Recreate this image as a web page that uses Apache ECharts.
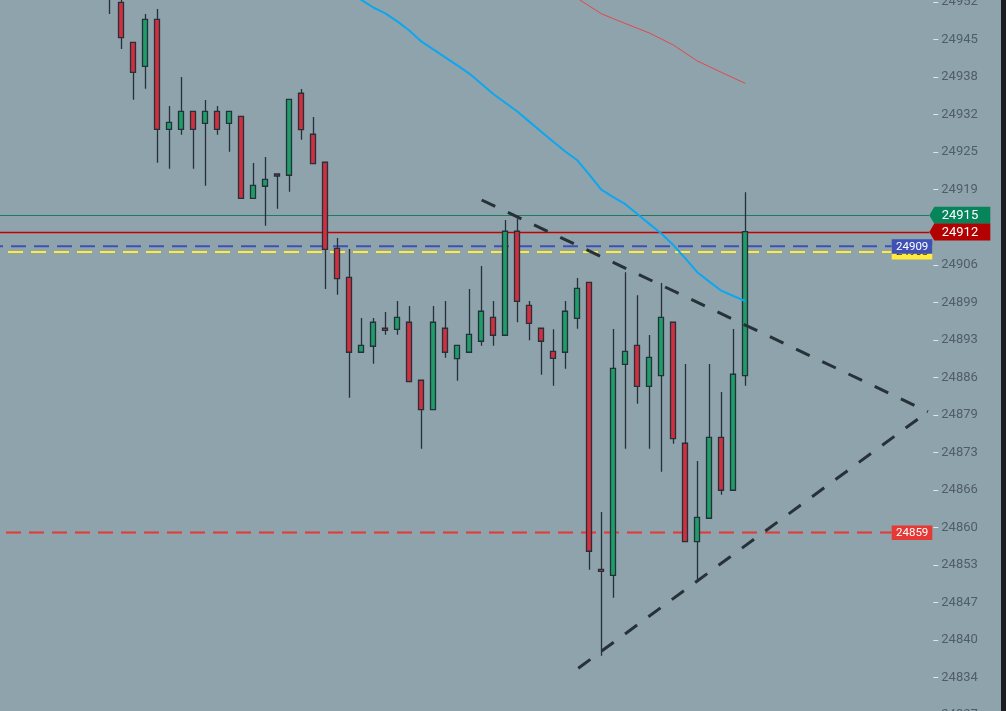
<!DOCTYPE html>
<html lang="en">
<head>
<meta charset="UTF-8">
<title>Candles</title>
<script src="https://cdn.jsdelivr.net/npm/echarts@6/dist/echarts.min.js"></script>
<style>
  html, body { margin: 0; padding: 0; background: #1c1d1f; overflow: hidden; width: 1006px; height: 711px; }
  /* the chart is a bit larger than the window: the first and last price ticks sit just off screen */
  #main { position: absolute; left: -5px; top: -36px; width: 1006px; height: 790px; }
</style>
</head>
<body>
<div id="main"></div>
<script>
  // empty bar slots left and right of the candles (chart is scrolled)
  const slotsBefore = 9
  const slotsAfter = 15

  // candles: [open, close, low, high]
  const candles = [
    [24957.50, 24954.00, 24949.95, 24960.00],
    [24952.00, 24945.82, 24943.84, 24952.57],
    [24945.01, 24939.77, 24934.99, 24945.01],
    [24940.82, 24949.03, 24936.91, 24949.95],
    [24949.03, 24929.82, 24923.99, 24950.83],
    [24929.82, 24931.04, 24922.94, 24933.89],
    [24929.82, 24932.96, 24928.88, 24938.95],
    [24932.96, 24929.82, 24922.94, 24932.96],
    [24930.87, 24932.96, 24919.97, 24934.94],
    [24932.96, 24929.82, 24928.88, 24933.89],
    [24930.87, 24932.96, 24925.91, 24932.96],
    [24932.09, 24917.77, 24917.77, 24932.09],
    [24917.77, 24920.04, 24917.77, 24923.93],
    [24919.87, 24921.09, 24912.99, 24924.98],
    [24922.01, 24921.66, 24915.95, 24922.01],
    [24921.79, 24935.06, 24918.92, 24935.06],
    [24936.11, 24929.75, 24928.00, 24936.86],
    [24928.95, 24923.81, 24923.81, 24931.97],
    [24924.06, 24908.86, 24901.93, 24924.06],
    [24909.04, 24903.73, 24900.94, 24910.84],
    [24903.97, 24890.88, 24882.95, 24908.92],
    [24890.88, 24892.10, 24890.88, 24896.87],
    [24891.93, 24896.12, 24888.89, 24896.87],
    [24895.07, 24894.72, 24893.95, 24897.91],
    [24894.89, 24896.99, 24893.95, 24899.84],
    [24896.12, 24885.74, 24885.74, 24898.96],
    [24885.99, 24880.85, 24874.04, 24885.99],
    [24880.85, 24896.12, 24880.85, 24898.96],
    [24895.07, 24890.88, 24889.93, 24899.84],
    [24889.76, 24892.10, 24885.92, 24892.10],
    [24890.88, 24894.02, 24890.88, 24901.93],
    [24892.80, 24898.04, 24892.03, 24905.95],
    [24896.99, 24893.85, 24892.03, 24899.84],
    [24893.85, 24912.01, 24893.85, 24913.98],
    [24912.01, 24899.78, 24896.12, 24914.24],
    [24899.08, 24895.94, 24892.97, 24899.84],
    [24895.07, 24892.80, 24886.97, 24895.07],
    [24891.05, 24889.83, 24885.04, 24894.89],
    [24890.88, 24898.04, 24888.01, 24899.84],
    [24896.81, 24902.05, 24894.99, 24903.85],
    [24903.10, 24856.13, 24852.91, 24903.10],
    [24852.98, 24852.63, 24837.89, 24862.99],
    [24851.93, 24888.08, 24848.02, 24894.95],
    [24888.78, 24891.05, 24874.04, 24904.85],
    [24892.10, 24884.94, 24881.90, 24900.83],
    [24884.94, 24890.00, 24874.04, 24893.90],
    [24886.79, 24896.99, 24870.03, 24902.98],
    [24896.12, 24875.79, 24874.92, 24896.12],
    [24874.99, 24857.80, 24857.80, 24888.83],
    [24857.80, 24862.06, 24850.99, 24871.90],
    [24861.89, 24876.03, 24861.89, 24888.83],
    [24876.03, 24866.78, 24866.01, 24883.94],
    [24866.78, 24887.04, 24866.78, 24894.95],
    [24886.79, 24911.94, 24885.04, 24918.82]
  ]

  // moving averages, first value belongs to candle maXxxStart
  const maFastStart = 19
  const maFast = [
    24955.19, 24953.80, 24952.43, 24951.09, 24950.06, 24948.66, 24947.06,
    24945.17, 24943.77, 24942.39, 24940.98, 24939.55, 24937.76, 24935.98,
    24934.46, 24932.93, 24931.16, 24929.38, 24927.65, 24925.94, 24924.41,
    24921.91, 24919.27, 24917.98, 24916.74, 24915.01, 24913.30, 24911.62,
    24909.61, 24907.29, 24904.86, 24903.22, 24901.63, 24900.71, 24899.84
  ]
  const maSlowStart = 38
  const maSlow = [
    24954.15, 24952.70, 24951.35, 24950.01, 24949.13, 24948.30, 24947.46,
    24946.64, 24945.59, 24944.54, 24943.14, 24941.75, 24940.77, 24939.77,
    24938.80, 24937.84
  ]

  // drawn trendlines: [candle index, price]
  const trendUpper = [[31.03, 24917.47], [68.22, 24880.5]]
  const trendLower = [[39.08, 24835.70], [68.22, 24880.5]]

  // price tags on the scale (last / bid)
  const tagPrices = [24914.8, 24911.9]
  const tagLabels = ['24915', '24912']

  // horizontal level lines
  const levelPrices = [24859.4, 24908.4, 24909.4]
  const levelLabels = ['24859', '24908', '24909']

  // price scale: one tick above and one below the visible labels are off screen
  const yTickTop = 24952.05
  const yTickStep = 6.5556
  const yTickLabels = [
    24952, 24945, 24938, 24932, 24925, 24919, 24912, 24906, 24899, 24893,
    24886, 24879, 24873, 24866, 24860, 24853, 24847, 24840, 24834, 24827
  ]
  const yMax = yTickTop + yTickStep
  const yMin = yTickTop - yTickLabels.length * yTickStep

  // styles
  const tagColors = ['#07855a', '#b30000']
  const tagLineColors = ['#217a60', '#c20000']
  const levelColors = ['#e53935', '#ffeb3b', '#3f51b5']
  const levelTextColors = ['#ffffff', '#333333', '#ffffff']
  const levelDashOffsets = [12.3, 10.3, 7.3]

  const nSlots = slotsBefore + candles.length + slotsAfter
  const categories = Array.from({ length: nSlots }, (_, i) => String(i))

  const pad = (arr, start) => {
    const out = new Array(nSlots).fill(null)
    arr.forEach((v, i) => { out[slotsBefore + start + i] = v })
    return out
  }
  const trendData = (pts) => pts.map(p => [p[0] + slotsBefore, p[1]])

  function tagItem(params, api) {
    const i = params.dataIndex
    const cs = params.coordSys
    const y = api.coord([0, api.value(1)])[1]
    const ly = Math.round(y) + 0.5
    const x0 = cs.x + cs.width
    return {
      type: 'group',
      children: [
        {
          type: 'line',
          shape: { x1: 0, y1: ly, x2: x0 - 2, y2: ly },
          style: { stroke: tagLineColors[i], lineWidth: i === 1 ? 1.4 : 1.1 }
        },
        {
          type: 'polygon',
          shape: { points: [[x0 - 2, y], [x0 + 3, y - 8.5], [x0 + 59, y - 8.5], [x0 + 59, y + 8.5], [x0 + 3, y + 8.5]] },
          style: { fill: tagColors[i] }
        },
        {
          type: 'text',
          x: x0 + 10.4,
          y: y + 0.5,
          style: { text: tagLabels[i], fill: '#ffffff', font: '13px Roboto', align: 'left', verticalAlign: 'middle' }
        }
      ]
    }
  }

  function levelItem(params, api) {
    const i = params.dataIndex
    const cs = params.coordSys
    const y = api.coord([0, api.value(1)])[1]
    const bx = cs.x + cs.width - 39.6
    return {
      type: 'group',
      children: [
        {
          type: 'line',
          shape: { x1: cs.x, y1: y, x2: bx, y2: y },
          style: { stroke: levelColors[i], lineWidth: 2, lineDash: [15, 8], lineDashOffset: levelDashOffsets[i] }
        },
        {
          type: 'rect',
          shape: { x: bx, y: y - 7, width: 40.6, height: 14.5 },
          style: { fill: levelColors[i] }
        },
        {
          type: 'text',
          x: bx + 4.3,
          y: y + 0.5,
          style: { text: levelLabels[i], fill: levelTextColors[i], font: '11.5px Roboto', align: 'left', verticalAlign: 'middle' }
        }
      ]
    }
  }

  const myChart = echarts.init(document.getElementById('main'))

  const option = {
    animation: false,
    backgroundColor: '#8fa3ac',
    grid: { left: 0.3, right: 69.7, top: 0.46, height: 788.3 },
    xAxis: [
      { type: 'category', data: categories, show: false, boundaryGap: true },
      { type: 'value', min: -0.5, max: nSlots - 0.5, show: false }
    ],
    yAxis: {
      type: 'value',
      position: 'right',
      offset: 2,
      min: yMin,
      max: yMax,
      interval: yTickStep,
      splitLine: { show: false },
      axisLine: { show: false, onZero: false },
      axisTick: { show: true, length: 5, lineStyle: { color: '#dfe5e8', width: 1 } },
      axisLabel: {
        margin: 8,
        color: '#4f5d68',
        fontFamily: 'Roboto',
        fontSize: 13,
        formatter: (v) => {
          const k = Math.round((yTickTop - v) / yTickStep)
          return k >= 0 && k < yTickLabels.length ? String(yTickLabels[k]) : ''
        }
      }
    },
    series: [
      {
        type: 'candlestick',
        data: pad(candles, 0).map(c => c || '-'),
        barWidth: 5.5,
        itemStyle: {
          color: '#1f9d68',
          color0: '#d12f3e',
          borderColor: '#24313a',
          borderColor0: '#24313a',
          borderWidth: 1.3
        }
      },
      {
        type: 'line',
        data: pad(maSlow, maSlowStart),
        showSymbol: false,
        lineStyle: { color: '#e2474b', width: 1 }
      },
      {
        type: 'line',
        data: pad(maFast, maFastStart),
        showSymbol: false,
        lineStyle: { color: '#0ea6ef', width: 2 }
      },
      {
        type: 'line',
        xAxisIndex: 1,
        data: trendData(trendUpper),
        showSymbol: false,
        lineStyle: { color: '#263238', width: 3, type: [15, 14] }
      },
      {
        type: 'line',
        xAxisIndex: 1,
        data: trendData(trendLower),
        showSymbol: false,
        lineStyle: { color: '#263238', width: 3, type: [15, 14] }
      },
      {
        type: 'custom',
        clip: false,
        renderItem: levelItem,
        encode: { x: 0, y: 1 },
        data: levelPrices.map(v => [0, v])
      },
      {
        type: 'custom',
        clip: false,
        renderItem: tagItem,
        encode: { x: 0, y: 1 },
        data: tagPrices.map(v => [0, v])
      }
    ]
  }

  myChart.setOption(option)
</script>
</body>
</html>
